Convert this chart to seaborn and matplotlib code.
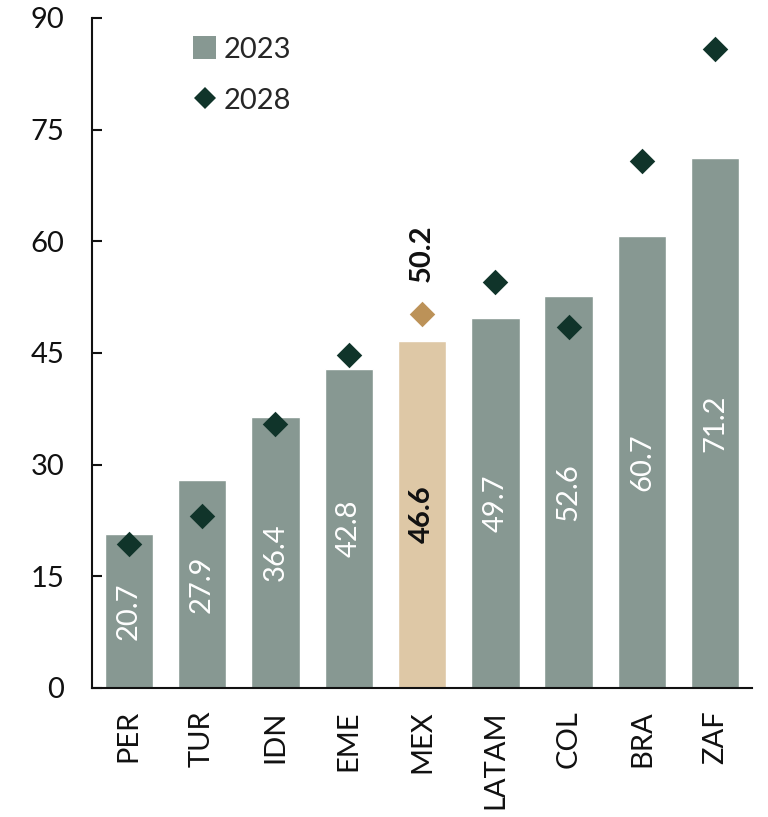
import matplotlib
matplotlib.use("Agg")
import matplotlib.pyplot as plt
from matplotlib.lines import Line2D
from matplotlib.patches import Patch
import seaborn as sns
import pandas as pd

# Data
countries = ["PER", "TUR", "IDN", "EME", "MEX", "LATAM", "COL", "BRA", "ZAF"]
values_2023 = [20.7, 27.9, 36.4, 42.8, 46.6, 49.7, 52.6, 60.7, 71.2]
values_2028 = [19.3, 23.1, 35.4, 44.7, 50.2, 54.5, 48.5, 70.8, 85.8]
highlight = "MEX"

BAR = "#879892"
BAR_HI = "#DEC8A6"
DOT = "#10342A"
DOT_HI = "#BC9258"
INK = "#111111"

sns.set_theme(style="white")
plt.rcParams["font.family"] = ["Lato", "DejaVu Sans"]

df = pd.DataFrame({"country": countries, "y2023": values_2023, "y2028": values_2028})
bar_pal = {c: (BAR_HI if c == highlight else BAR) for c in countries}
dot_pal = {c: (DOT_HI if c == highlight else DOT) for c in countries}

fig = plt.figure(figsize=(7.68, 8.17), dpi=100)
ax = fig.add_axes([0.12, 0.158, 0.859, 0.820])

sns.barplot(data=df, x="country", y="y2023", hue="country", palette=bar_pal,
            order=countries, width=0.66, legend=False, ax=ax, saturation=1)
sns.stripplot(data=df, x="country", y="y2028", hue="country", palette=dot_pal,
              order=countries, jitter=False, marker="D", size=13, linewidth=0,
              legend=False, ax=ax, zorder=5)

# Value labels inside bars
for i, (c, v) in enumerate(zip(countries, values_2023)):
    hi = c == highlight
    ax.text(i, v / 2, f"{v:.1f}", rotation=90, ha="center", va="center",
            fontsize=21, color=INK if hi else "white",
            fontweight="bold" if hi else "normal", zorder=6)

# Label for the highlighted 2028 value
hi_idx = countries.index(highlight)
ax.annotate(f"{values_2028[hi_idx]:.1f}", (hi_idx, values_2028[hi_idx]),
            xytext=(0, 23), textcoords="offset points", rotation=90,
            ha="center", va="bottom", fontsize=21, fontweight="bold", color=INK)

# Axes styling
ax.set_xlim(-0.5, len(countries) - 0.5)
ax.set_ylim(0, 90)
ax.set_yticks(range(0, 91, 15))
ax.set_xlabel("")
ax.set_ylabel("")
for s in ("top", "right"):
    ax.spines[s].set_visible(False)
for s in ("left", "bottom"):
    ax.spines[s].set_color(INK)
    ax.spines[s].set_linewidth(1.5)

ax.set_xticks(range(len(countries)))
ax.set_xticklabels(countries, rotation=90)
ax.set_xticks([i - 0.5 for i in range(len(countries) + 1)], minor=True)
ax.tick_params(axis="x", which="major", length=0, pad=16, labelsize=21, labelcolor=INK)
ax.tick_params(axis="x", which="minor", direction="inout", length=13, width=1.5, color=INK)
ax.tick_params(axis="y", direction="in", length=7, width=1.5, color=INK,
               pad=20, labelsize=21, labelcolor=INK, left=True)

handles = [
    Patch(facecolor=BAR, edgecolor="none", label="2023"),
    Line2D([], [], marker="D", linestyle="none", markersize=11,
           markerfacecolor=DOT, markeredgewidth=0, label="2028"),
]
ax.legend(handles=handles, loc="upper left", bbox_to_anchor=(0.135, 0.99),
          frameon=False, fontsize=21, handlelength=0.8, handleheight=0.8,
          handletextpad=0.25, labelspacing=0.85, borderaxespad=0)

fig.savefig("out.png", dpi=100)
